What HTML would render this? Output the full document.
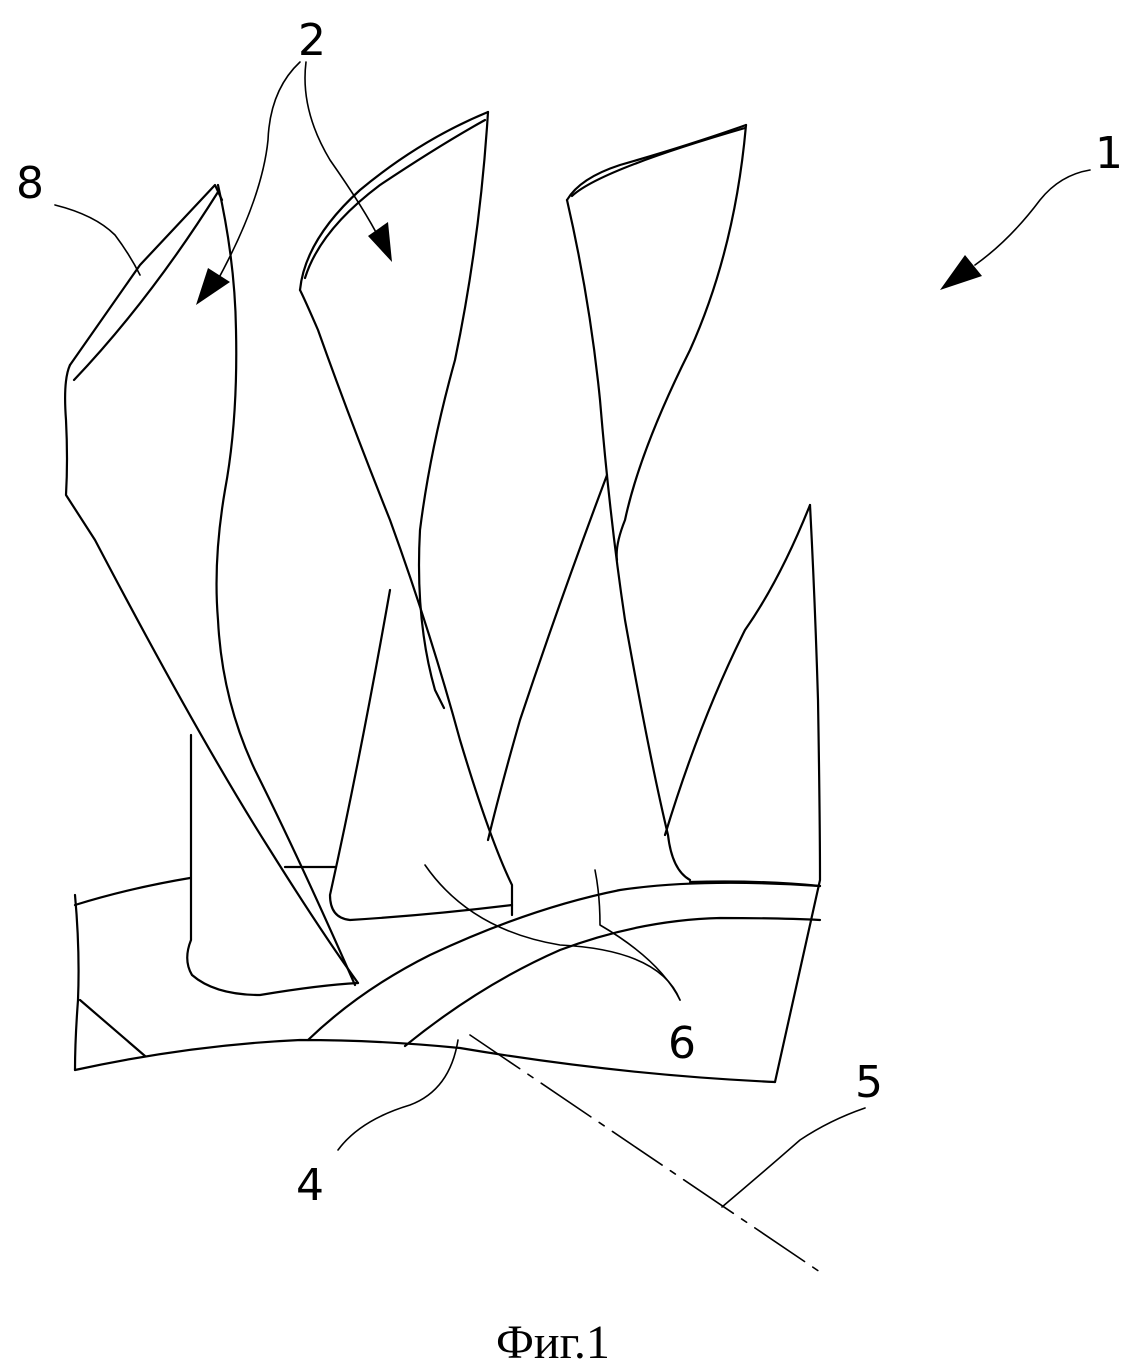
<!DOCTYPE html>
<html><head><meta charset="utf-8"><style>
html,body{margin:0;padding:0;background:#fff;}
svg{display:block;}
text{font-family:"DejaVu Sans","Liberation Sans",sans-serif;fill:#000;}
</style></head><body>
<svg width="1136" height="1367" viewBox="0 0 1136 1367" xmlns="http://www.w3.org/2000/svg">
<g fill="none" stroke="#000" stroke-width="2.2" stroke-linecap="round" stroke-linejoin="round">
<path d="M70,365 L140,265 L215,185 L222,200"/>
<path d="M74,380 Q150,300 218,192"/>
<path d="M70,365 Q63,380 66,420 Q68,460 66,495 L95,540 Q200,740 270,850 Q320,930 358,983"/>
<path d="M218,185 Q235,260 236,330 Q238,420 225,490 Q213,560 218,620 Q222,700 255,770 Q300,860 355,985"/>
<path d="M191,735 L191,940 Q183,960 192,975 Q215,995 260,995 Q320,985 358,983"/>
<path d="M300,290 Q305,240 360,190 Q420,140 488,112"/>
<path d="M305,278 Q320,230 380,185 Q440,145 485,120"/>
<path d="M488,112 Q480,240 455,360 Q430,450 420,530 Q415,620 435,690 Q450,720 440,700"/>
<path d="M300,290 Q305,300 318,330 Q350,420 390,520 Q430,630 460,740 Q490,840 512,885 L512,915"/>
<path d="M390,590 Q360,760 330,895 Q330,918 350,920 Q430,915 512,905"/>
<path d="M567,200 Q580,178 620,165 Q690,145 746,125"/>
<path d="M572,196 Q600,170 745,128"/>
<path d="M746,125 Q735,250 690,350 Q640,450 625,520 Q615,545 617,560"/>
<path d="M567,200 Q590,300 600,400 Q610,520 625,620 Q650,760 668,835 Q672,870 690,880"/>
<path d="M607,475 Q560,600 520,720 Q500,790 488,840"/>
<path d="M810,505 Q780,580 745,630 Q700,720 665,835"/>
<path d="M810,505 Q815,600 818,700 Q820,820 820,880 L775,1082"/>
<path d="M75,905 Q130,888 190,878"/>
<path d="M285,867 L335,867"/>
<path d="M690,882 Q760,880 820,886"/>
<path d="M308,1040 Q360,990 430,955 Q530,908 620,890 Q700,878 820,886"/>
<path d="M405,1046 Q480,985 560,950 Q640,920 720,918 Q780,918 820,920"/>
<path d="M75,1070 Q190,1045 300,1040 Q380,1040 460,1048 Q620,1075 775,1082"/>
<path d="M75,895 Q80,950 78,1000 Q75,1040 75,1070"/>
<path d="M80,1000 L145,1056"/>
<path d="M470,1035 L820,1272" stroke-width="1.6" stroke-dasharray="60,10,6,10"/>
<path d="M55,205 Q95,215 115,235 Q130,255 140,275" stroke-width="1.6"/>
<path d="M300,62 Q270,90 268,140 Q262,200 215,285" stroke-width="1.6"/>
<path d="M306,62 Q300,110 330,160 Q365,210 380,240" stroke-width="1.6"/>
<path d="M1090,170 Q1060,175 1040,200 Q1010,240 975,265" stroke-width="1.6"/>
<path d="M680,1000 Q660,960 600,925 Q600,895 595,870" stroke-width="1.6"/>
<path d="M680,1000 Q660,950 560,945 Q470,930 425,865" stroke-width="1.6"/>
<path d="M338,1150 Q360,1120 410,1105 Q450,1090 458,1040" stroke-width="1.6"/>
<path d="M865,1108 Q830,1120 800,1140 Q760,1175 722,1207" stroke-width="1.6"/>
</g>
<polygon points="196,305 208,268 230,282" fill="#000"/>
<polygon points="392,262 368,236 388,222" fill="#000"/>
<polygon points="940,290 965,255 982,276" fill="#000"/>
<text x="16" y="198" font-size="44">8</text>
<text x="298" y="55" font-size="44">2</text>
<text x="1095" y="168" font-size="44">1</text>
<text x="668" y="1058" font-size="44">6</text>
<text x="296" y="1200" font-size="44">4</text>
<text x="855" y="1097" font-size="44">5</text>
<text x="496" y="1358" font-size="48" style="font-family:'Liberation Serif',serif">Фиг.1</text>
</svg>
</body></html>
